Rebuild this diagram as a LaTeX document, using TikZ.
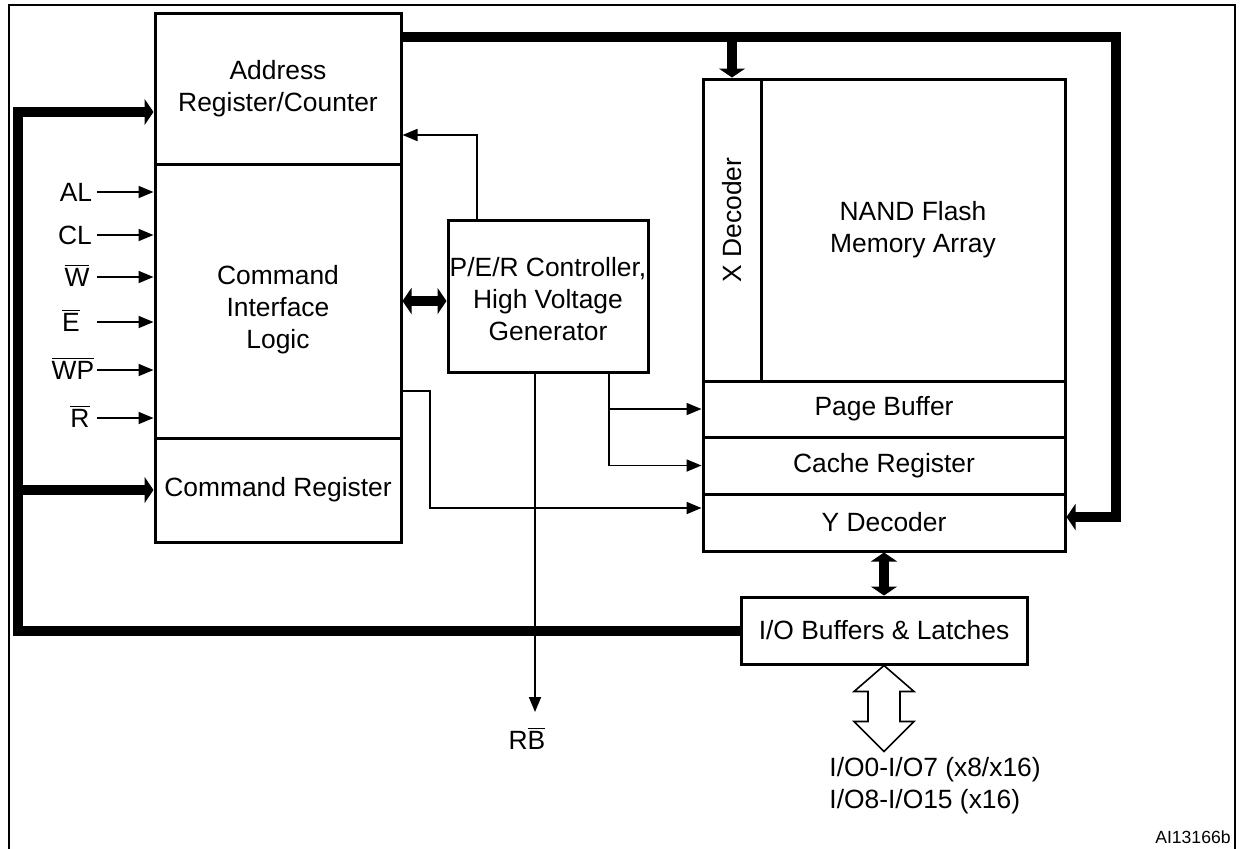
\documentclass[tikz,border=0pt]{standalone}
\usepackage{fontspec}
\setmainfont{Liberation Sans}
\usepackage{amsmath}
\usetikzlibrary{arrows.meta}

\begin{document}
\begin{tikzpicture}[x = 0.5pt, y = -0.5pt,
	 font = \fontsize{13.2}{16}\selectfont,
	 box/.style = {draw, line width = 1.5pt, inner sep = 0pt, align = center},
	 busarrow/.style = {line width = 5pt, -{Triangle[length = 4.5pt, width = 13pt]}},
	 busboth/.style = {line width = 5pt, {Triangle[length = 4.5pt, width = 13pt]}-{Triangle[length = 4.5pt, width = 13pt]}},
	 wire/.style = {line width = 0.9pt, -{Triangle[length = 7.5pt, width = 6pt]}},
	 sig/.style = {anchor = base, inner sep = 0pt}]
	 \useasboundingbox (0, 0) rectangle (1240, 848);
	 \draw[line width = 1pt] (9, 850) -- (9, 5) -- (1235, 5) -- (1235, 850);
	 
	 \node[box, minimum width = 123pt, minimum height = 75.5pt] (addr) at (278, 88.5) {Address\\Register/Counter};
	 \node[box, minimum width = 123pt, minimum height = 137pt] (cil) at (278, 301) {};
	 \node[align = center] (ciltext) at (278, 310) {Command\\Interface\\Logic};
	 \node[box, minimum width = 123pt, minimum height = 52pt] (creg) at (278, 490) {Command Register};
	 
	 \node[box, minimum width = 100pt, minimum height = 76pt] (per) at (548, 296) {};
	 \node[align = center] (pertext) at (548, 299) {P/E/R Controller,\\High Voltage\\Generator};
	 
	 \node[box, minimum width = 29pt, minimum height = 151pt] (xdec) at (732, 230) {};
	 \node[rotate = 90] (xdectext) at (732, 220) {X Decoder};
	 \node[box, minimum width = 152pt, minimum height = 151pt] (nand) at (913, 230) {NAND Flash\\Memory Array};
	 \node[box, minimum width = 181pt, minimum height = 28pt] (page) at (884, 409) {Page Buffer};
	 \node[box, minimum width = 181pt, minimum height = 28.5pt] (cache) at (884, 465.5) {Cache Register};
	 \node[box, minimum width = 181pt, minimum height = 28.5pt] (ydec) at (884, 522.5) {Y Decoder};
	 
	 \node[box, minimum width = 143pt, minimum height = 33.5pt] (iobuf) at (884, 630.5) {I/O Buffers \& Latches};
	 
	 \foreach \sname/\lx/\ly [count = \i] in {AL/76/192, CL/75/235, {$\overline{\mbox{W}}$}/77/277, {$\overline{\mbox{E}}$}/71/322, {$\overline{\mbox{WP}}$}/73/370, {$\overline{\mbox{R}}$}/80/418}
	 {
	 \node[sig] (sig\i) at (\lx, \ly + 9.5) {\sname};
	 \coordinate (in\i) at (97, \ly);
	 \draw[wire] (in\i) -- (in\i -| cil.west);
	 }
	 
	 \coordinate (busR) at (1116, 37);
	 \coordinate (busY) at (1116, 517);
	 \draw[busarrow] (addr.east |- busR) -- (busR) -- (busY) -- (ydec.east |- busY);
	 \draw[busarrow] (xdec.north |- busR) -- (xdec.north);
	 
	 \coordinate (busL) at (18, 112);
	 \draw[busarrow] (iobuf.west) -| (busL) -- (addr.west |- busL);
	 \draw[busarrow] (busL |- creg.west) -- (creg.west);
	 
	 \draw[busboth] (cil.east) -- (cil.east -| per.west);
	 \draw[busboth] (ydec.south -| iobuf.north) -- (iobuf.north);
	 
	 \coordinate (perup) at (477, 135);
	 \draw[wire] (per.north -| perup) -- (perup) -- (addr.east |- perup);
	 
	 \coordinate (perdown) at (609, 409);
	 \draw[wire] (per.south -| perdown) |- (cache.west);
	 \draw[wire] (perdown |- page.west) -- (page.west);
	 
	 \coordinate (cilup) at (430, 391);
	 \coordinate (cildown) at (430, 508);
	 \draw[wire] (cil.east |- cilup) -- (cilup) -- (cildown) -- (ydec.west |- cildown);
	 
	 \coordinate (rbend) at (535, 712);
	 \draw[wire] (per.south -| rbend) -- (rbend);
	 \node[sig] (rb) at (527, 749.5) {R$\overline{\mbox{B}}$};
	 
	 \draw[line width = 0.8pt] (iobuf.south) -- ++(30, 26) -- ++(-14, 0) -- ++(0, 30) -- ++(14, 0) -- ++(-30, 30) -- ++(-30, -30) -- ++(14, 0) -- ++(0, -30) -- ++(-14, 0) -- cycle;
	 \node[anchor = west, align = left, inner sep = 0pt] (pins) at (829, 786) {I/O0-I/O7 (x8/x16)\\I/O8-I/O15 (x16)};
	 
	 \node[anchor = east, inner sep = 0pt, font = \fontsize{8.8}{10}\selectfont] (code) at (1231, 837) {AI13166b};
\end{tikzpicture}
\end{document}
